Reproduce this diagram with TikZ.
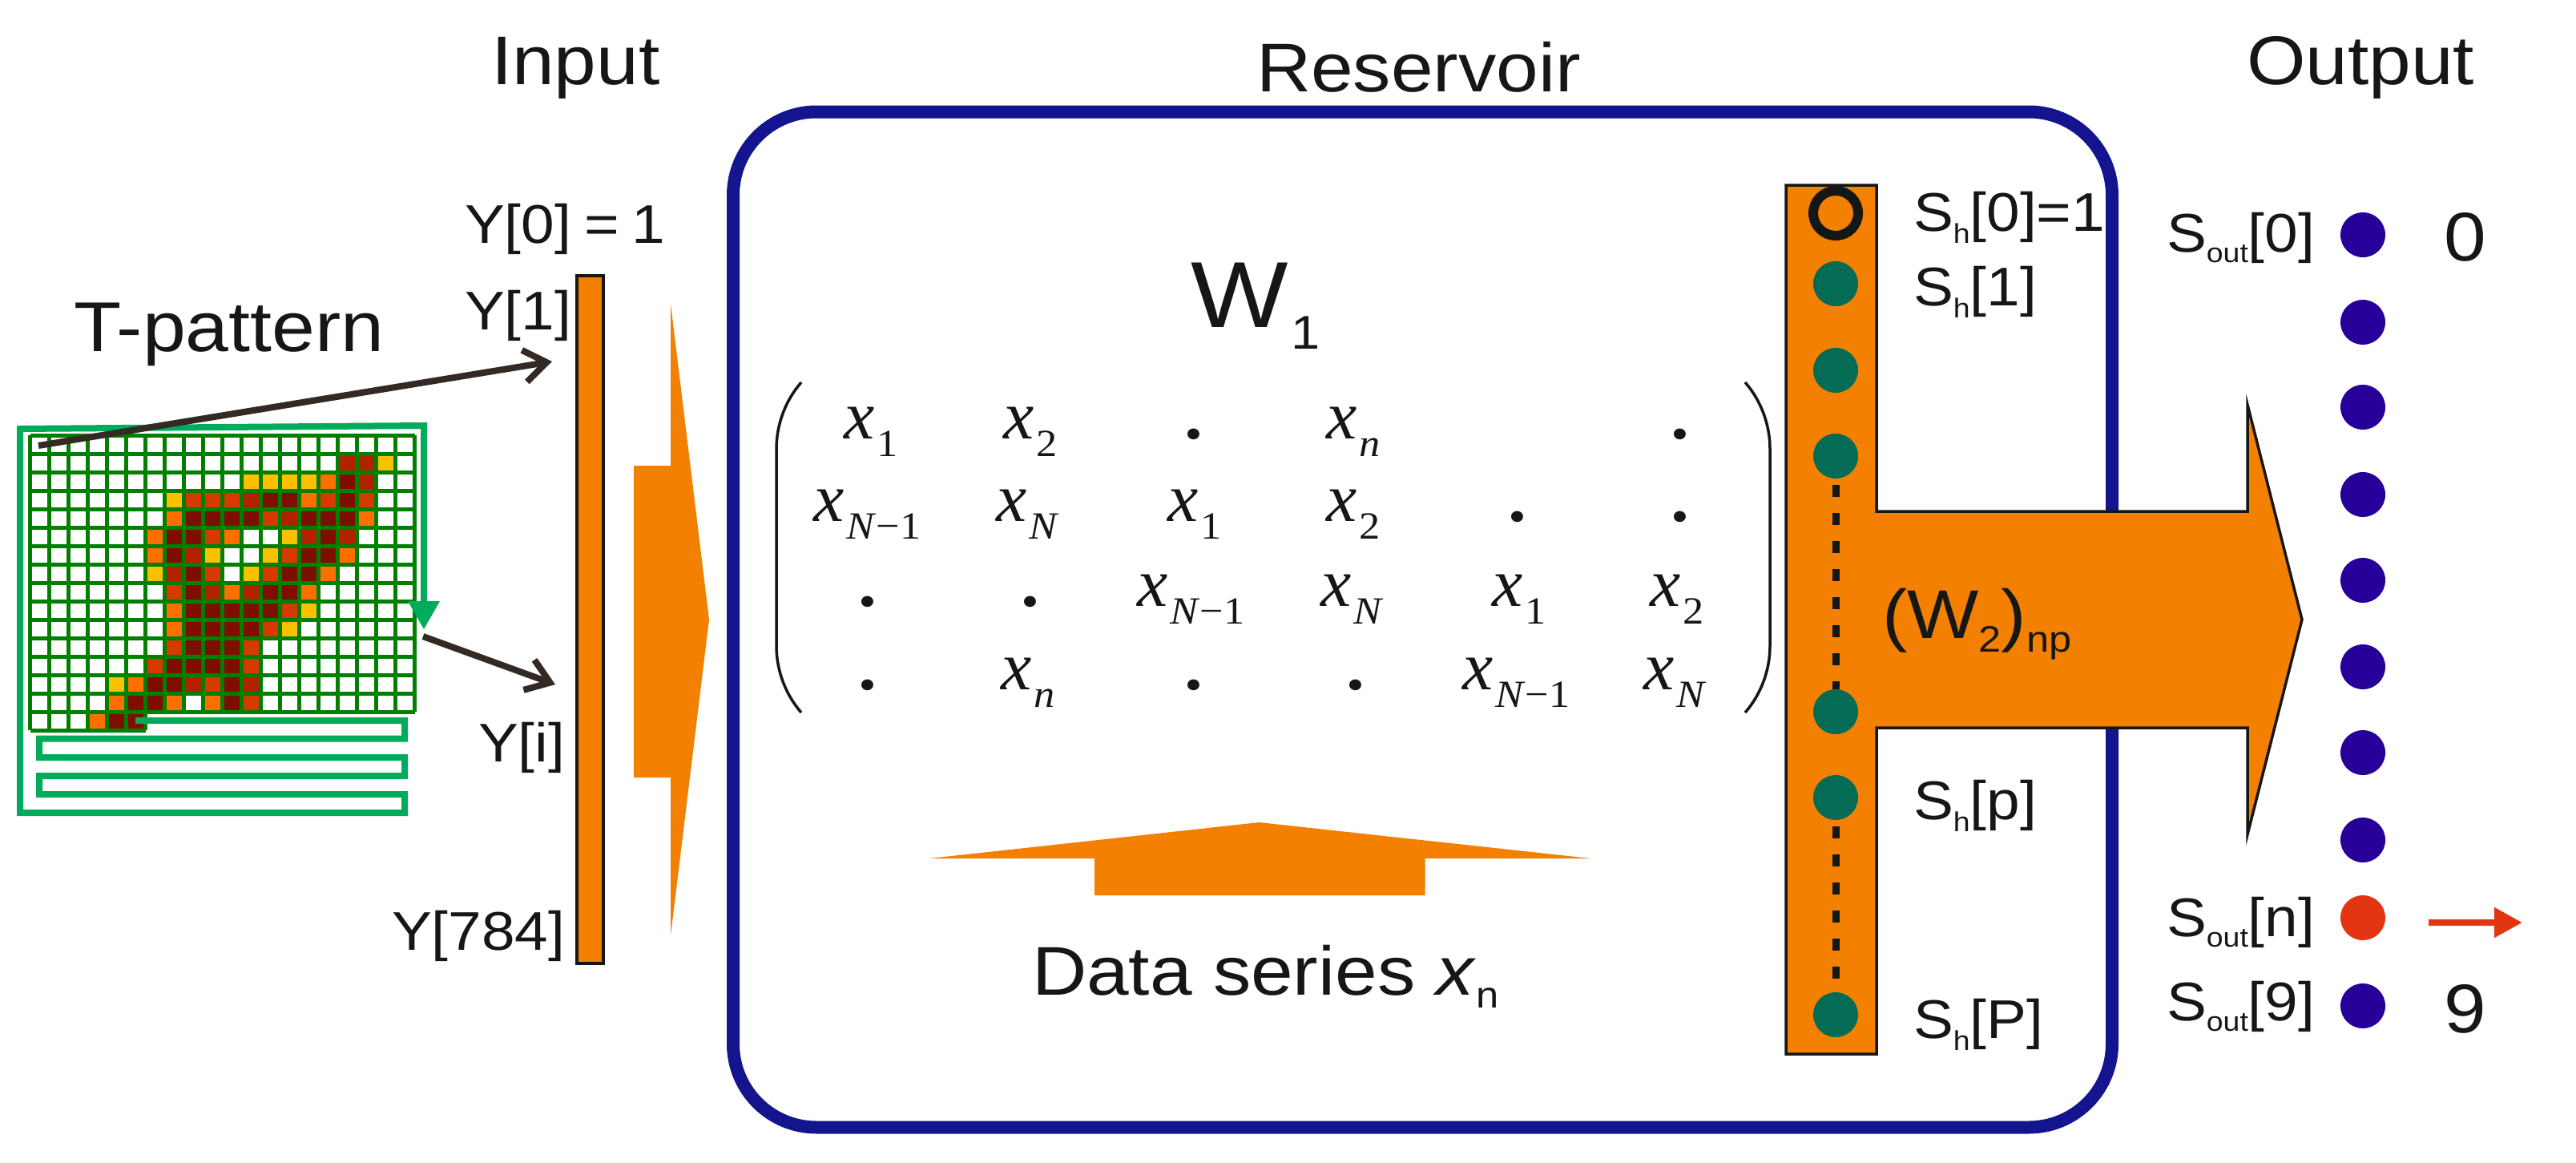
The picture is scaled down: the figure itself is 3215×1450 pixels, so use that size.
\documentclass[tikz,border=0pt]{standalone}
\usepackage{fontspec}
\setmainfont[FakeStretch=1.10]{Liberation Sans}
\newfontfamily\mtxfont[FakeStretch=1.09]{Liberation Serif}
\newfontfamily\mtxbase{Liberation Serif}
\usetikzlibrary{arrows.meta}
\definecolor{ink}{HTML}{151715}
\definecolor{orangefill}{HTML}{F38000}
\definecolor{resblue}{HTML}{15148F}
\definecolor{hidgreen}{HTML}{046B55}
\definecolor{outblue}{HTML}{27009A}
\definecolor{outred}{HTML}{E33512}
\definecolor{gridgreen}{HTML}{007F00}
\definecolor{scangreen}{HTML}{00AC5C}
\definecolor{pointer}{HTML}{332A25}
\definecolor{cellY}{HTML}{FBC100}
\definecolor{cellO}{HTML}{FF6F00}
\definecolor{cellR}{HTML}{D63A00}
\definecolor{cellB}{HTML}{B22200}
\definecolor{cellD}{HTML}{7E0F00}
\newcommand\sz[1]{\fontsize{#1}{#1}\selectfont}
% subscript: drop, size, text
\newcommand\lowtext[3]{\raisebox{#1}{\sz{#2}#3}}
\newcommand\xs[1]{{\mtxbase\sz{43}\textit{x}\kern1.5pt\mtxfont\lowtext{-11pt}{24}{#1}}}
\newcommand\xNm{\textit{N}−1}
\newcommand\xN{\textit{N}}
\newcommand\xn{\textit{n}}
\newcommand\mdot{{\mtxfont\sz{42}\textbf{.}}}
\tikzset{
  txt/.style={inner sep=0pt,outer sep=0pt,anchor=base west,text=ink},
  big/.style={txt,font=\sz{43}},
  mid/.style={txt,font=\sz{34}},
  mtx/.style={inner sep=0pt,outer sep=0pt,anchor=base west,text=ink},
  mdt/.style={inner sep=0pt,outer sep=0pt,anchor=base,text=ink},
  orangeshape/.style={fill=orangefill},
  orangeedge/.style={fill=orangefill,draw=ink,line width=1.75pt,miter limit=10},
  hdot/.style={circle,fill=hidgreen,inner sep=0pt,minimum size=28pt},
  hring/.style={circle,draw=ink,line width=6pt,inner sep=0pt,minimum size=28pt},
  odot/.style={circle,fill=outblue,inner sep=0pt,minimum size=28pt},
  rdot/.style={circle,fill=outred,inner sep=0pt,minimum size=28pt},
  dashline/.style={draw=ink,line width=4.5pt,dash pattern=on 7.5pt off 10pt,shorten <=4pt},
  gridline/.style={draw=gridgreen,line width=2.25pt,line cap=square},
  scanline/.style={draw=scangreen,line width=4pt,miter limit=10},
  pointerarrow/.style={draw=pointer,line width=4pt,-{Straight Barb[length=14pt,width=20pt]}},
  paren/.style={draw=ink,line width=1.75pt}
}
\begin{document}
\begin{tikzpicture}[x=0.5pt,y=-0.5pt]
\useasboundingbox (0,0) rectangle (3215,1450);
\fill[white] (0,0) rectangle (3215,1450);

% reservoir frame
\draw[draw=resblue,line width=8pt,rounded corners=52pt] (915,139.5) rectangle (2636,1406.5);

% pattern cells
\foreach \c/\r in {18/1,11/2,12/2,13/2,14/2,7/3,13/5,9/6,12/6,6/7,11/7,14/9,13/10,4/13}
  \fill[cellY] ({37.5+\c*24},{543.3+\r*23}) rectangle ++(24,23);
\foreach \c/\r in {15/2,14/3,7/4,17/4,6/5,10/5,6/6,16/6,15/7,10/8,14/8,7/9,7/10,5/13,4/14,7/14,9/14,3/15}
  \fill[cellO] ({37.5+\c*24},{543.3+\r*23}) rectangle ++(24,23);
\foreach \c/\r in {8/3,9/3,10/3,15/3,17/3,12/4,9/5,13/6,9/7,12/7,7/8,13/9,12/10,7/11,11/11,6/12,11/12,9/13,11/14}
  \fill[cellR] ({37.5+\c*24},{543.3+\r*23}) rectangle ++(24,23);
\foreach \c/\r in {16/1,17/1,17/2,11/3,13/4,14/5,16/5,8/6,7/7,9/8,11/8,8/13,11/13}
  \fill[cellB] ({37.5+\c*24},{543.3+\r*23}) rectangle ++(24,23);
\foreach \c/\r in {16/2,12/3,13/3,16/3,8/4,9/4,10/4,11/4,14/4,15/4,16/4,7/5,8/5,15/5,7/6,14/6,15/6,8/7,13/7,14/7,8/8,12/8,13/8,8/9,9/9,10/9,11/9,12/9,8/10,9/10,10/10,11/10,8/11,9/11,10/11,7/12,8/12,9/12,10/12,6/13,7/13,10/13,5/14,6/14,10/14,4/15,5/15}
  \fill[cellD] ({37.5+\c*24},{543.3+\r*23}) rectangle ++(24,23);

% pattern grid
\foreach \r in {0,...,15}
  \draw[gridline] (37.5,{543.3+\r*23}) -- (517.5,{543.3+\r*23});
\draw[gridline] (37.5,911.3) -- (181.5,911.3);
\foreach \c in {0,...,6}
  \draw[gridline] ({37.5+\c*24},543.3) -- ({37.5+\c*24},911.3);
\foreach \c in {7,...,20}
  \draw[gridline] ({37.5+\c*24},543.3) -- ({37.5+\c*24},888.3);

% scan path
\draw[scanline] (169,899) -- (505,899) -- (505,921.7) -- (49,921.7) -- (49,945) -- (505,945)
  -- (505,968) -- (49,968) -- (49,991) -- (505,991) -- (505,1014) -- (25,1014) -- (25,535)
  -- (529,531) -- (529,752);
\fill[scangreen] (509,750) -- (549,750) -- (529,785) -- cycle;

% pointers to input bar
\coordinate (p1s) at (48,556);
\coordinate (p1t) at (689,451);
\coordinate (p2s) at (528,794);
\coordinate (p2t) at (693,854);
\draw[pointerarrow] (p1s) -- (p1t);
\draw[pointerarrow] (p2s) -- (p2t);

% input bar and arrow
\draw[orangeedge] (720,344) rectangle (753,1202);
\fill[orangeshape] (837,379) -- (885,773) -- (837,1167) -- (837,970) -- (791,970) -- (791,581) -- (837,581) -- cycle;

% data series arrow
\fill[orangeshape] (1571.5,1026) -- (1985,1071) -- (1778.5,1071) -- (1778.5,1117) -- (1366,1117) -- (1366,1071) -- (1160,1071) -- cycle;

% hidden bar and output arrow
\draw[orangeedge] (2229,231) -- (2342,231) -- (2342,638) -- (2805,638) -- (2805,505) -- (2873,773)
  -- (2805,1041) -- (2805,908) -- (2342,908) -- (2342,1315) -- (2229,1315) -- cycle;

% hidden nodes
\node[hring] (h0) at (2291,266) {};
\node[hdot] (h1) at (2291,354) {};
\node[hdot] (h2) at (2291,462) {};
\node[hdot] (h3) at (2291,569) {};
\node[hdot] (h4) at (2291,888) {};
\node[hdot] (h5) at (2291,995) {};
\node[hdot] (h6) at (2291,1266) {};
\draw[dashline] (h3) -- (h4);
\draw[dashline] (h5) -- (h6);

% output nodes
\node[odot] (o0) at (2949,293) {};
\node[odot] (o1) at (2949,402) {};
\node[odot] (o2) at (2949,508) {};
\node[odot] (o3) at (2949,617) {};
\node[odot] (o4) at (2949,724) {};
\node[odot] (o5) at (2949,832) {};
\node[odot] (o6) at (2949,939) {};
\node[odot] (o7) at (2949,1048) {};
\node[rdot] (on) at (2949,1145) {};
\node[odot] (o9) at (2949,1255) {};
\coordinate (rs) at (3031,1151);
\coordinate (rt) at (3148,1151);
\draw[draw=outred,line width=4pt,-{Triangle[length=17.5pt,width=18pt]}] (rs) -- (rt);

% matrix brackets
\draw[paren] (1000,477) .. controls (980,500) and (969,530) .. (969,560) -- (969,806)
  .. controls (969,836) and (980,866) .. (1000,889);
\draw[paren] (2178,477) .. controls (2198,500) and (2209,530) .. (2209,560) -- (2209,806)
  .. controls (2209,836) and (2198,866) .. (2178,889);

% matrix entries
\node[mtx] (m11) at (1053,547) {\xs{1}};
\node[mtx] (m12) at (1252,547) {\xs{2}};
\node[mdt] (m13) at (1490,547) {\mdot};
\node[mtx] (m14) at (1655,547) {\xs{\xn}};
\node[mdt] (m16) at (2097,547) {\mdot};
\node[mtx] (m21) at (1015,650) {\xs{\xNm}};
\node[mtx] (m22) at (1243,650) {\xs{\xN}};
\node[mtx] (m23) at (1457,650) {\xs{1}};
\node[mtx] (m24) at (1655,650) {\xs{2}};
\node[mdt] (m25) at (1894,650) {\mdot};
\node[mdt] (m26) at (2097,650) {\mdot};
\node[mdt] (m31) at (1083,756) {\mdot};
\node[mdt] (m32) at (1286,756) {\mdot};
\node[mtx] (m33) at (1419,756) {\xs{\xNm}};
\node[mtx] (m34) at (1648,756) {\xs{\xN}};
\node[mtx] (m35) at (1862,756) {\xs{1}};
\node[mtx] (m36) at (2059,756) {\xs{2}};
\node[mdt] (m41) at (1083,860) {\mdot};
\node[mtx] (m42) at (1249,860) {\xs{\xn}};
\node[mdt] (m43) at (1490,860) {\mdot};
\node[mdt] (m44) at (1692,860) {\mdot};
\node[mtx] (m45) at (1825,860) {\xs{\xNm}};
\node[mtx] (m46) at (2051,860) {\xs{\xN}};

% titles and labels
\node[big] (tinput) at (613,105) {Input};
\node[big] (tres) at (1568,114) {Reservoir};
\node[big] (tout) at (2804,105) {Output};
\node[txt,font=\sz{44}] (tpat) at (92,438) {T-pattern};
\node[mid] (y0) at (580,303) {Y[0]\kern8pt=\kern8pt1};
\node[mid] (y1) at (580,411) {Y[1]};
\node[mid] (yi) at (597,950) {Y[i]};
\node[mid] (y784) at (489,1185) {Y[784]};
\node[txt,font=\sz{58.5}] (w1) at (1486,408) {W\kern2pt\lowtext{-13.5pt}{29.5}{1}};
\node[big] (ds) at (1288,1241) {Data series \textit{x}\lowtext{-8pt}{23}{n}};
\node[big] (w2) at (2349,796) {(W\lowtext{-8.5pt}{23}{2})\lowtext{-8.5pt}{23}{np}};
\node[mid] (sh0) at (2388,288) {S\lowtext{-7.5pt}{17}{h}[0]=1};
\node[mid] (sh1) at (2388,381) {S\lowtext{-7.5pt}{17}{h}[1]};
\node[mid] (shp) at (2388,1022) {S\lowtext{-7.5pt}{17}{h}[p]};
\node[mid] (shP) at (2388,1295) {S\lowtext{-7.5pt}{17}{h}[P]};
\node[mid] (so0) at (2704,314) {S\lowtext{-6.5pt}{17}{out}[0]};
\node[mid] (son) at (2704,1168) {S\lowtext{-6.5pt}{17}{out}[n]};
\node[mid] (so9) at (2704,1273) {S\lowtext{-6.5pt}{17}{out}[9]};
\node[big] (l0) at (3050,325) {0};
\node[big] (l9) at (3050,1288) {9};
\end{tikzpicture}
\end{document}
